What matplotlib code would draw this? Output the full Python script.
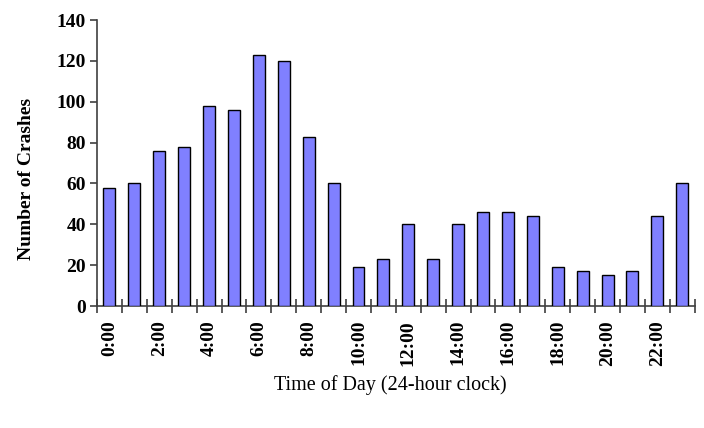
import matplotlib
matplotlib.use("Agg")
import matplotlib.pyplot as plt
import numpy as np

hours = [f"{h}:00" for h in range(24)]
crashes = [58, 60, 76, 78, 98, 96, 123, 120, 83, 60, 19, 23, 40, 23, 40, 46, 46, 44, 19, 17, 15, 17, 44, 60]
y_ticks = [0, 20, 40, 60, 80, 100, 120, 140]

fig = plt.figure(figsize=(7.04, 4.28), dpi=100)
ax = fig.add_axes([0.1378, 0.285, 0.849, 0.668])

x = np.arange(len(hours))
ax.bar(x, crashes, width=0.48, color="#8080FF", edgecolor="black", linewidth=1.0, zorder=3)

ax.set_xlim(-0.5, len(hours) - 0.5)
ax.set_ylim(0, 140)
ax.set_yticks(y_ticks)

tick_font = dict(family="Liberation Serif", weight="bold", size=14)
ax.set_yticklabels([str(v) for v in y_ticks], fontdict=tick_font)

# category boundary ticks
ax.set_xticks(np.arange(-0.5, len(hours) + 0.5, 1.0))
ax.set_xticklabels([])
ax.tick_params(axis="x", which="major", direction="inout", length=10, width=1.2, color="#404040")
ax.set_xticks(x[::2], minor=True)
ax.set_xticklabels(hours[::2], minor=True, rotation=90, fontdict=tick_font)
ax.tick_params(axis="x", which="minor", length=0, pad=10)
ax.tick_params(axis="y", direction="out", length=5, width=1.2, color="#404040", pad=3)

for s in ["top", "right"]:
    ax.spines[s].set_visible(False)
for s in ["left", "bottom"]:
    ax.spines[s].set_color("#404040")
    ax.spines[s].set_linewidth(1.2)

ax.set_ylabel("Number of Crashes", family="Liberation Serif", weight="bold", size=14)
ax.yaxis.set_label_coords(-0.104, 0.444)
fig.text(0.554, 0.10, "Time of Day (24-hour clock)", family="Liberation Serif", size=14.5, ha="center", va="center")

fig.savefig("out.png", dpi=100)
